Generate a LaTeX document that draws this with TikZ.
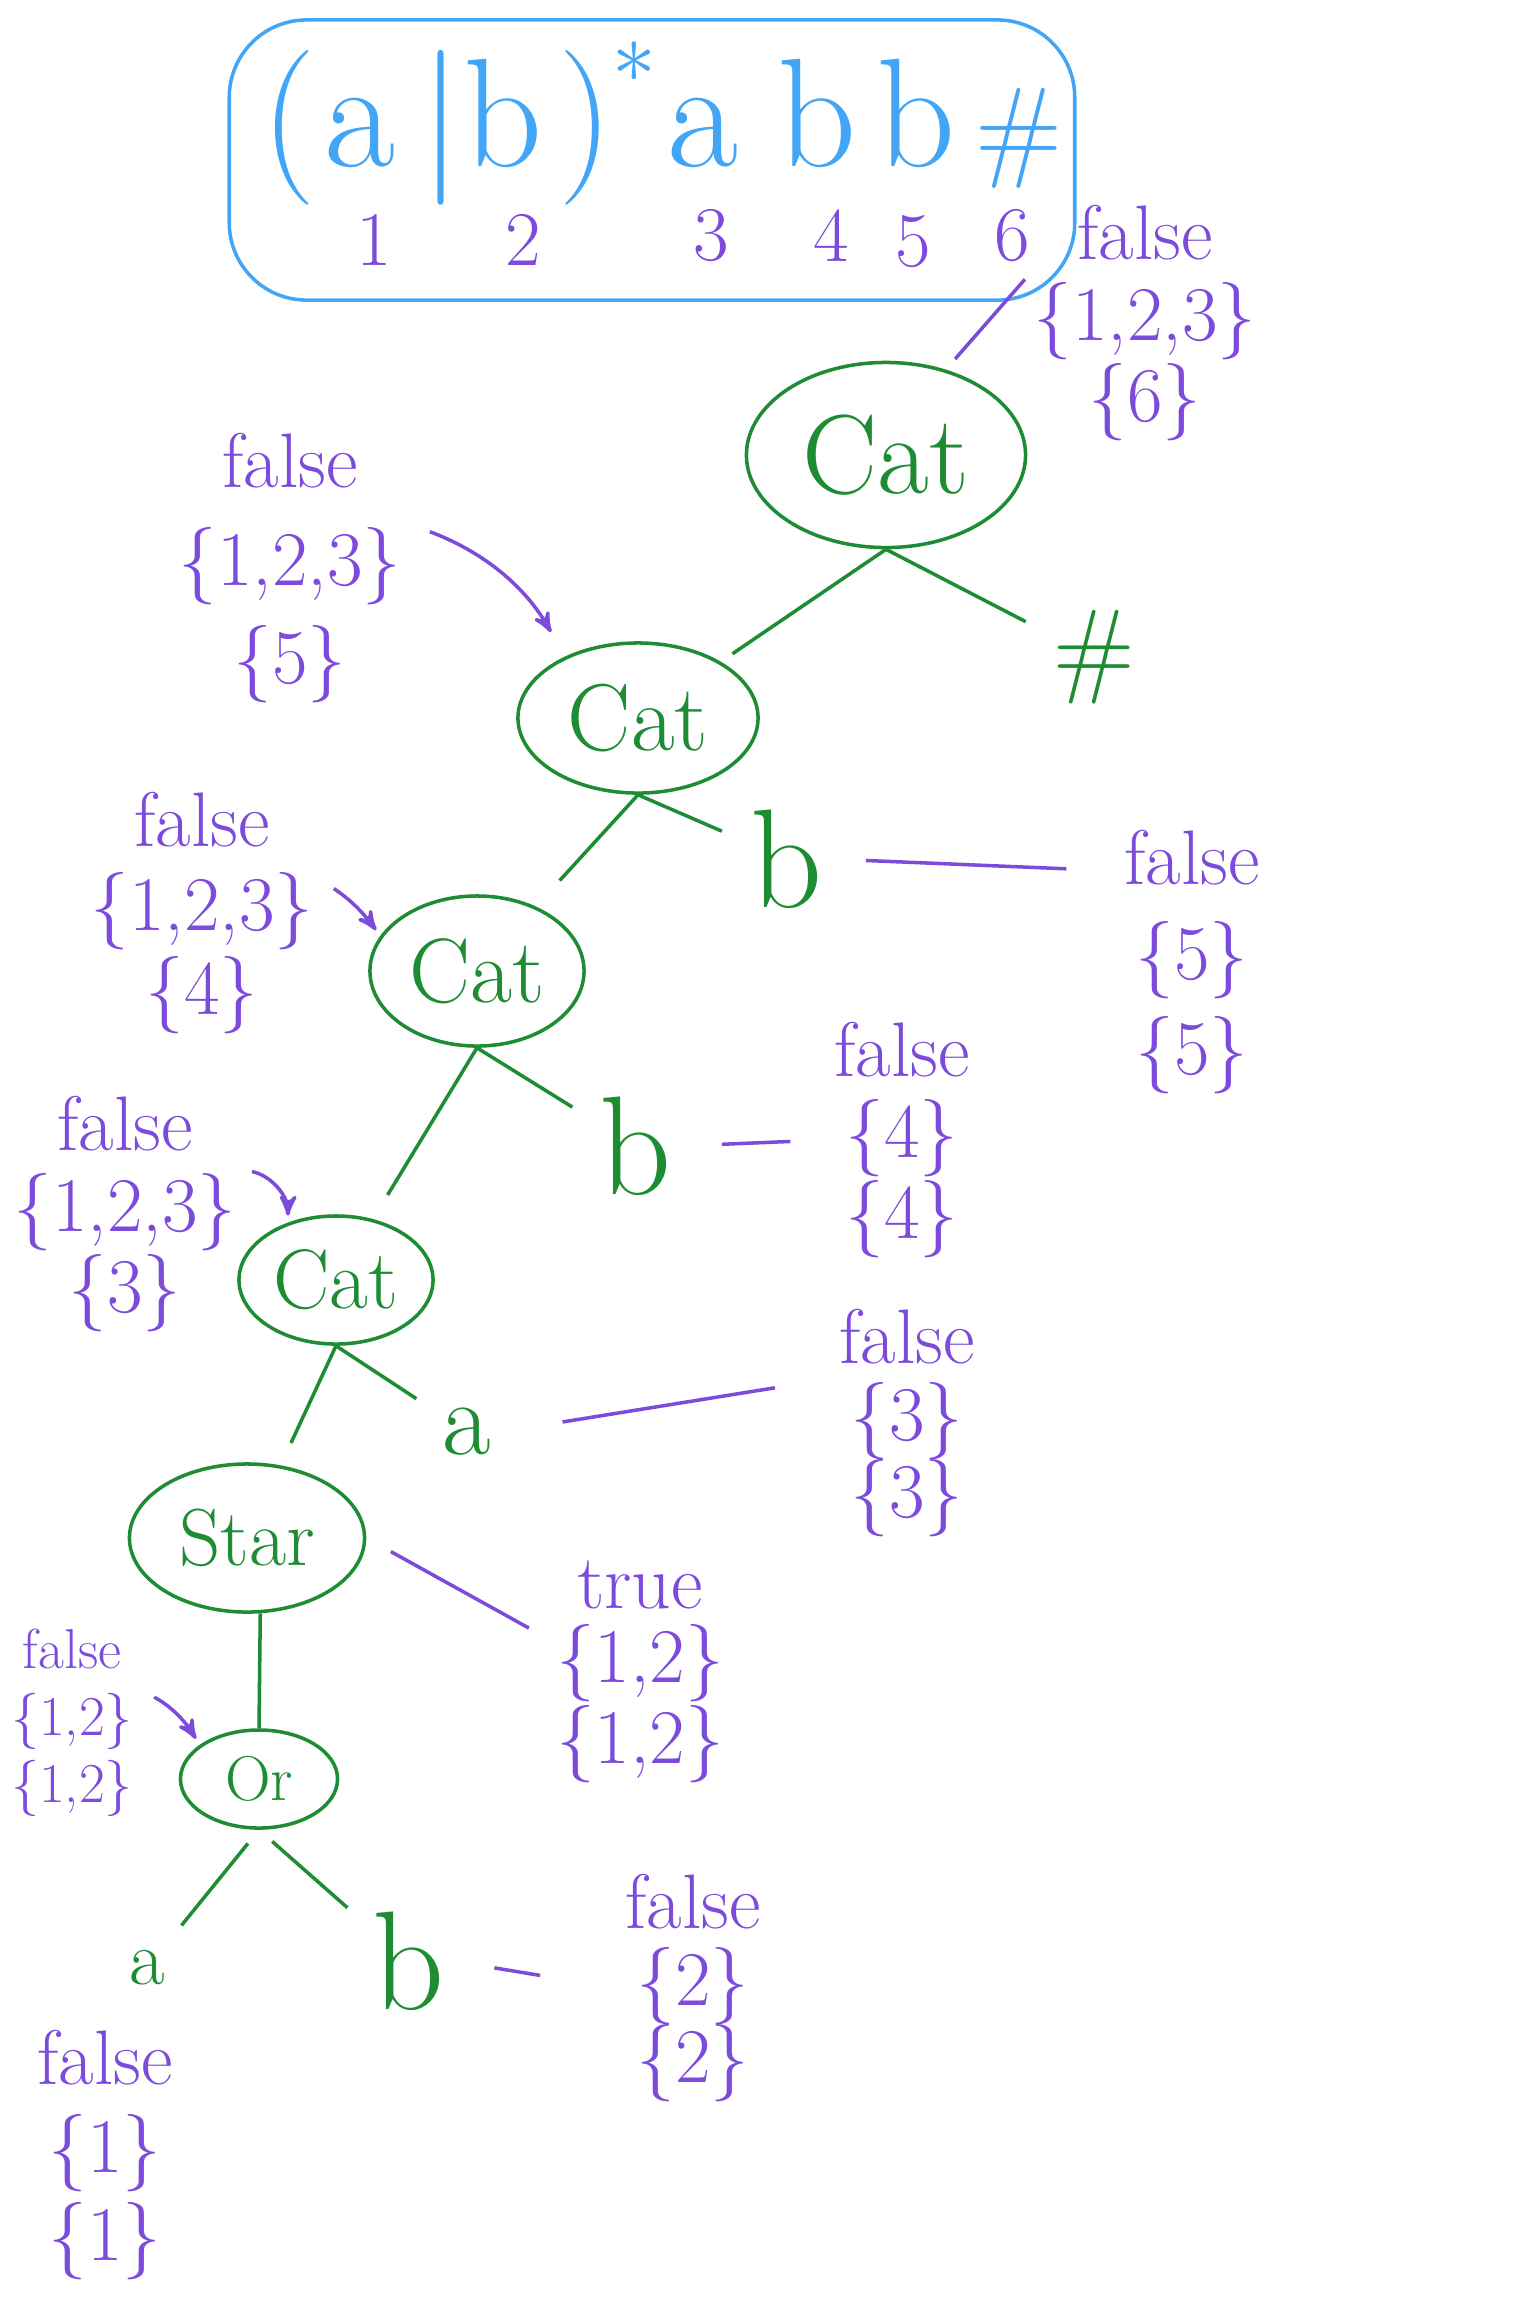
\documentclass[tikz,border=0pt]{standalone}
\usepackage{amsmath}
\usetikzlibrary{arrows,shapes.geometric}

\definecolor{penblue}{RGB}{66,165,245}
\definecolor{pengreen}{RGB}{30,140,50}
\definecolor{penpurple}{RGB}{125,75,220}

\tikzset{
  opnode/.style={ellipse, draw=pengreen, text=pengreen, inner sep=0pt},
  leaf/.style={text=pengreen, inner sep=2pt, font=\fontsize{40}{44}\selectfont},
  info/.style={text=penpurple, align=center, inner sep=2pt, font=\fontsize{22}{#1}\selectfont},
  info/.default=24,
  edge/.style={draw=pengreen},
  note/.style={draw=penpurple},
  pointer/.style={draw=penpurple, ->, >=stealth'},
  rxsym/.style={text=penblue, inner sep=0pt, anchor=base, font=\fontsize{44}{48}\selectfont},
  posnum/.style={text=penpurple, inner sep=0pt, font=\fontsize{22}{24}\selectfont},
}

\begin{document}
\begin{tikzpicture}[x=0.01cm, y=-0.01cm, line width=1pt]
  \useasboundingbox (0,0) rectangle (1534,2305);
  %\draw[very thin, gray, step=100] (0,0) grid (1534,2305);
  \node[draw=penblue, rounded corners=22pt, minimum width=8.45cm, minimum height=2.8cm] (box) at (652,160) {};
  \node[rxsym] (lpar) at (289,166) {(};
  \node[rxsym] (sa) at (360,166) {a};
  \node[rxsym] (bar) at (441,166) {|};
  \node[rxsym] (sb) at (503,166) {b};
  \node[rxsym] (rpar) at (586,166) {)};
  \node[text=penblue, inner sep=0pt, font=\fontsize{30}{30}\selectfont] (kleene) at (634,62) {$*$};
  \node[rxsym] (sa2) at (703,166) {a};
  \node[rxsym] (sb2) at (817,166) {b};
  \node[rxsym] (sb3) at (916,166) {b};
  \node[rxsym, font=\fontsize{32}{36}\selectfont] (send) at (1019,166) {\#};
  \node[posnum] (p1) at (374,240) {1};
  \node[posnum] (p2) at (523,240) {2};
  \node[posnum] (p3) at (711,236) {3};
  \node[posnum] (p4) at (831,236) {4};
  \node[posnum] (p5) at (913,242) {5};
  \node[posnum] (p6) at (1012,236) {6};

  \node[opnode, font=\fontsize{32}{36}\selectfont, minimum width=2.79cm, minimum height=1.85cm] (cat1) at (886,455) {Cat};
  \node[opnode, font=\fontsize{27}{30}\selectfont, minimum width=2.4cm, minimum height=1.5cm] (cat2) at (638,718) {Cat};
  \node[opnode, font=\fontsize{26}{30}\selectfont, minimum width=2.14cm, minimum height=1.5cm] (cat3) at (477,971) {Cat};
  \node[opnode, font=\fontsize{24}{28}\selectfont, minimum width=1.94cm, minimum height=1.28cm] (cat4) at (336,1280) {Cat};
  \node[opnode, font=\fontsize{23}{26}\selectfont, minimum width=2.35cm, minimum height=1.48cm] (star) at (247,1538) {Star};
  \node[opnode, font=\fontsize{18}{20}\selectfont, minimum width=1.57cm, minimum height=0.98cm] (or) at (259,1779) {Or};

  \node[leaf, font=\fontsize{30}{32}\selectfont] (hashleaf) at (1094,657) {\#};
  \node[leaf] (bleafa) at (786,859) {b};
  \node[leaf] (bleafb) at (635,1146) {b};
  \node[leaf, font=\fontsize{30}{32}\selectfont] (aleaf) at (467,1432) {a};
  \node[leaf, font=\fontsize{22}{24}\selectfont] (aleafor) at (147,1968) {a};
  \node[leaf] (bleafor) at (408,1961) {b};

  \draw[edge, shorten >=4pt] (cat1.south) -- (cat2);
  \draw[edge, shorten >=6pt] (cat1.south) -- (hashleaf);
  \draw[edge, shorten >=10pt] (cat2.south) -- (cat3);
  \draw[edge, shorten >=6pt] (cat2.south) -- (bleafa);
  \draw[edge, shorten >=8pt] (cat3.south) -- (cat4);
  \draw[edge, shorten >=6pt] (cat3.south) -- (bleafb);
  \draw[edge, shorten >=7pt] (cat4.south) -- (star);
  \draw[edge, shorten >=6pt] (cat4.south) -- (aleaf);
  \draw[edge] (star.-80) -- (or.north);
  \draw[edge, shorten <=5pt, shorten >=6pt] (or.south) -- (aleafor);
  \draw[edge, shorten <=5pt, shorten >=6pt] (or.south) -- (bleafor);

  \node[info=23] (infocatone) at (1145,323) {false\\\{1,2,3\}\\\{6\}};
  \node[info=28] (infocattwo) at (290,568) {false\\\{1,2,3\}\\\{5\}};
  \node[info=27] (infobfive) at (1192,962) {false\\\{5\}\\\{5\}};
  \node[info=24] (infocatthree) at (202,913) {false\\\{1,2,3\}\\\{4\}};
  \node[info=23] (infobfour) at (902,1140) {false\\\{4\}\\\{4\}};
  \node[info=23] (infocatfour) at (125,1214) {false\\\{1,2,3\}\\\{3\}};
  \node[info=22] (infoathree) at (907,1423) {false\\\{3\}\\\{3\}};
  \node[info=21] (infostar) at (640,1672) {true\\\{1,2\}\\\{1,2\}};
  \node[info, font=\fontsize{16}{19}\selectfont] (infoor) at (72,1723) {false\\\{1,2\}\\\{1,2\}};
  \node[info=22] (infobtwo) at (693,1988) {false\\\{2\}\\\{2\}};
  \node[info=25] (infoaone) at (105,2155) {false\\\{1\}\\\{1\}};

  \draw[note, shorten <=4pt] (cat1.55) -- (infocatone.160);
  \draw[note, shorten <=10pt, shorten >=14pt] (bleafa.east) -- (infobfive.130);
  \draw[note, shorten <=12pt, shorten >=10pt] (bleafb.east) -- (infobfour.west);
  \draw[note, shorten <=18pt, shorten >=16pt] (aleaf.east) -- (infoathree.150);
  \draw[note, shorten <=8pt, shorten >=6pt] (star.east) -- (infostar.160);
  \draw[note, shorten <=12pt, shorten >=22pt] (bleafor.east) -- (infobtwo.west);

  \draw[pointer, shorten <=6pt, shorten >=8pt] (infocattwo.20) to[bend left=20] (cat2.140);
  \draw[pointer, shorten <=4pt, shorten >=2pt] (infocatthree.15) to[bend left=10] (cat3.160);
  \draw[pointer, shorten <=2pt, shorten >=2pt] (infocatfour.20) to[bend left=40] (cat4.130);
  \draw[pointer, shorten <=4pt, shorten >=2pt] (infoor.25) to[bend left=15] (or.150);
\end{tikzpicture}
\end{document}
